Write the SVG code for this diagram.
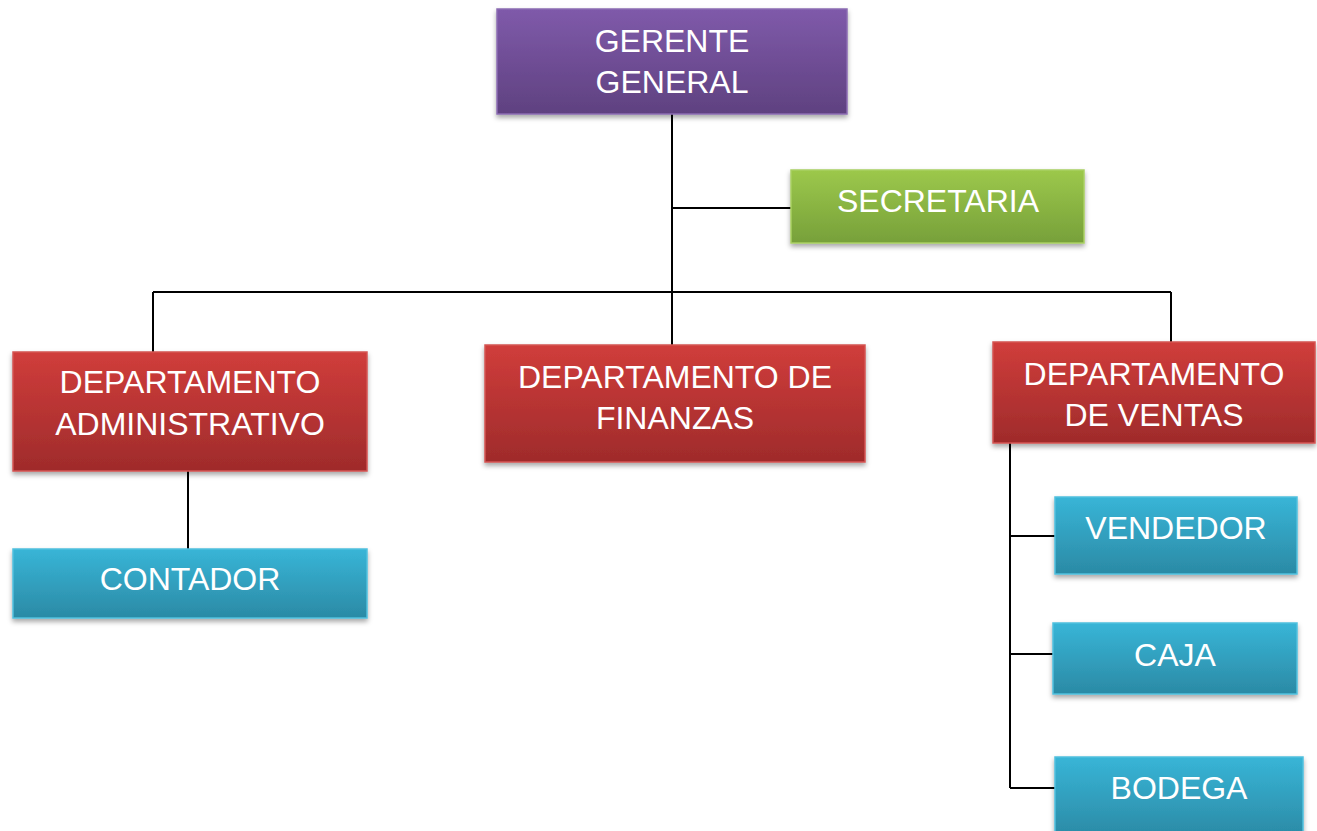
<svg xmlns="http://www.w3.org/2000/svg" width="1317" height="831" viewBox="0 0 1317 831">
<defs>
<linearGradient id="gp" x1="0" y1="0" x2="0" y2="1"><stop offset="0" stop-color="#7f5aaa"/><stop offset="1" stop-color="#5f4180"/></linearGradient>
<linearGradient id="gg" x1="0" y1="0" x2="0" y2="1"><stop offset="0" stop-color="#9cc84b"/><stop offset="1" stop-color="#77a03a"/></linearGradient>
<linearGradient id="gr" x1="0" y1="0" x2="0" y2="1"><stop offset="0" stop-color="#d03d3b"/><stop offset="1" stop-color="#9f2b2b"/></linearGradient>
<linearGradient id="gb" x1="0" y1="0" x2="0" y2="1"><stop offset="0" stop-color="#38b5d7"/><stop offset="1" stop-color="#2b8aa5"/></linearGradient>
<filter id="sh" x="-5%" y="-10%" width="110%" height="130%"><feDropShadow dx="0" dy="3" stdDeviation="2.5" flood-color="#000" flood-opacity="0.35"/></filter>
</defs>
<style>
.n{filter:url(#sh);stroke-width:1.5}
.p{fill:url(#gp);stroke:#8b6bb2}
.g{fill:url(#gg);stroke:#a8cf62}
.r{fill:url(#gr);stroke:#d45553}
.b{fill:url(#gb);stroke:#4fc0de}
text{font-family:"Liberation Sans",Arial,sans-serif;font-size:32px;fill:#fff;text-anchor:middle}
.c{stroke:#000;stroke-width:2;fill:none}
</style>
<g id="connectors">
<path class="c" d="M672 114V345M672 208H791M153 292H1171M153 292V352M1171 292V342M188 471V549M1010 443V788M1010 536H1055M1010 654H1053M1010 788H1055"/>
</g>
<g id="gerente"><rect class="n p" x="497" y="9" width="350" height="105"/><text x="672" y="52">GERENTE</text><text x="672" y="93">GENERAL</text></g>
<g id="secretaria"><rect class="n g" x="791" y="170" width="293" height="73"/><text x="938" y="212">SECRETARIA</text></g>
<g id="admin"><rect class="n r" x="13" y="352" width="354" height="119"/><text x="190" y="393">DEPARTAMENTO</text><text x="190" y="435">ADMINISTRATIVO</text></g>
<g id="finanzas"><rect class="n r" x="485" y="345" width="380" height="117"/><text x="675" y="388">DEPARTAMENTO DE</text><text x="675" y="429">FINANZAS</text></g>
<g id="ventas"><rect class="n r" x="993" y="342" width="322" height="101"/><text x="1154" y="385">DEPARTAMENTO</text><text x="1154" y="426">DE VENTAS</text></g>
<g id="contador"><rect class="n b" x="13" y="549" width="354" height="69"/><text x="190" y="590">CONTADOR</text></g>
<g id="vendedor"><rect class="n b" x="1055" y="497" width="242" height="77"/><text x="1176" y="539">VENDEDOR</text></g>
<g id="caja"><rect class="n b" x="1053" y="623" width="244" height="71"/><text x="1175" y="666">CAJA</text></g>
<g id="bodega"><rect class="n b" x="1055" y="757" width="248" height="80"/><text x="1179" y="799">BODEGA</text></g>
</svg>
